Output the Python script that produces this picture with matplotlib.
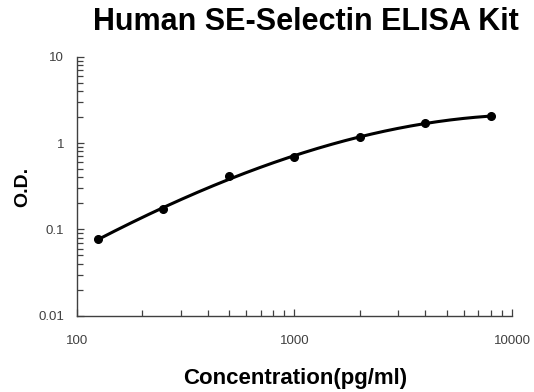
import matplotlib
matplotlib.use("Agg")
import matplotlib.pyplot as plt
import numpy as np
from matplotlib.ticker import LogLocator, NullFormatter, FixedFormatter, FixedLocator

# standard curve points
conc = [125, 250, 500, 1000, 2000, 4000, 8000]
od = [0.077, 0.17, 0.41, 0.68, 1.19, 1.69, 2.05]

x_ticks = [100, 1000, 10000]
x_labels = ["100", "1000", "10000"]
y_ticks = [0.01, 0.1, 1, 10]
y_labels = ["0.01", "0.1", "1", "10"]

plt.rcParams['font.family'] = ['Liberation Sans', 'DejaVu Sans']

# cubic fit in log-log space for the trend line
lx = np.log10(conc)
ly = np.log10(od)
coef = np.polyfit(lx, ly, 3)
fx = np.linspace(lx[0], lx[-1], 300)
fy = np.polyval(coef, fx)

fig = plt.figure(figsize=(5.34, 3.92), dpi=100)
ax = fig.add_axes([0.1436, 0.1946, 0.8154, 0.6608])

ax.plot(10 ** fx, 10 ** fy, color='black', linewidth=2.2, solid_capstyle='round')
ax.plot(conc, od, 'o', color='black', markersize=5.5)

ax.set_xscale('log')
ax.set_yscale('log')
ax.set_xlim(100, 10000)
ax.set_ylim(0.01, 10)

ax.xaxis.set_major_locator(FixedLocator(x_ticks))
ax.xaxis.set_major_formatter(FixedFormatter(x_labels))
ax.yaxis.set_major_locator(FixedLocator(y_ticks))
ax.yaxis.set_major_formatter(FixedFormatter(y_labels))
ax.xaxis.set_minor_locator(LogLocator(base=10, subs=np.arange(2, 10)))
ax.yaxis.set_minor_locator(LogLocator(base=10, subs=np.arange(2, 10)))
ax.xaxis.set_minor_formatter(NullFormatter())
ax.yaxis.set_minor_formatter(NullFormatter())

ax.tick_params(which='both', direction='in', color='#404040', width=0.9,
               labelsize=9.5, labelcolor='#404040')
ax.tick_params(which='major', length=5)
ax.tick_params(which='minor', length=4)
ax.tick_params(axis='x', which='major', pad=14)
ax.tick_params(axis='y', which='major', pad=9)

for side in ('top', 'right'):
    ax.spines[side].set_visible(False)
for side in ('left', 'bottom'):
    ax.spines[side].set_color('#404040')
    ax.spines[side].set_linewidth(1.0)

fig.text(0.572, 0.944, "Human SE-Selectin ELISA Kit", ha='center', va='center',
         fontsize=22, fontweight='bold')
fig.text(0.553, 0.035, "Concentration(pg/ml)", ha='center', va='center',
         fontsize=16, fontweight='bold')
fig.text(0.042, 0.523, "O.D.", ha='center', va='center', rotation=90,
         fontsize=14, fontweight='bold')

fig.savefig("out.png", dpi=100)
